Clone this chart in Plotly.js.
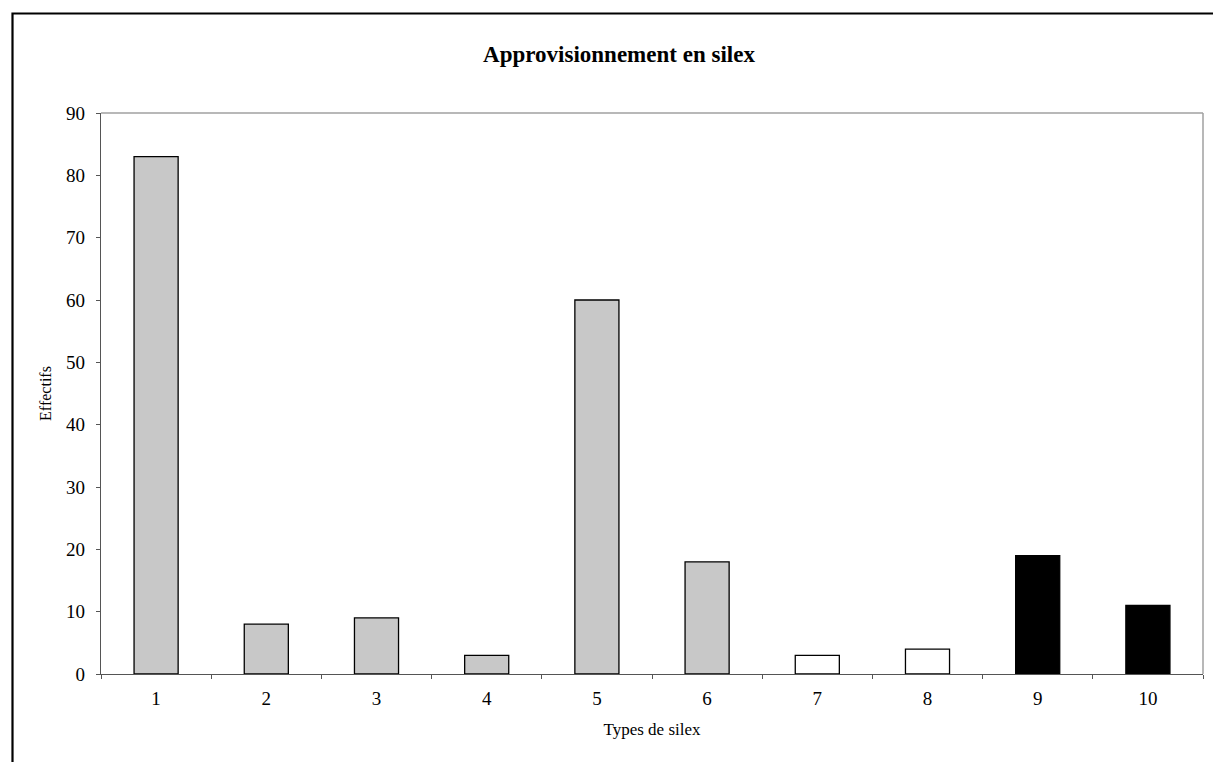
<!DOCTYPE html>
<html><head><meta charset="utf-8">
<script src="https://cdn.plot.ly/plotly-3.0.1.min.js"></script>
<style>html,body{margin:0;padding:0;background:#fff}#chart{width:1213px;height:762px}</style>
</head><body><div id="chart"></div>
<script>
const categories = ["1","2","3","4","5","6","7","8","9","10"];
const values = [83, 8, 9, 3, 60, 18, 3, 4, 19, 11];
const barColors = ["#C8C8C8","#C8C8C8","#C8C8C8","#C8C8C8","#C8C8C8","#C8C8C8","#FFFFFF","#FFFFFF","#000000","#000000"];
const yTicks = [0,10,20,30,40,50,60,70,80,90];

const font = "'Liberation Serif', 'Times New Roman', serif";
const trace = {
  type: "bar", x: categories, y: values,
  marker: {color: barColors, line: {color: "#000", width: 1.3}},
  hoverinfo: "x+y"
};
const layout = {
  width: 1213, height: 762,
  margin: {l: 101, r: 10, t: 113, b: 88},
  paper_bgcolor: "#fff", plot_bgcolor: "#fff",
  showlegend: false,
  bargap: 0.6,
  font: {family: font, color: "#000", size: 19},
  title: {text: "<b>Approvisionnement en silex</b>", font: {family: font, size: 23, color: "#000"},
          xref: "container", x: 619/1213, xanchor: "center", yref: "container", y: 1 - 54/762, yanchor: "middle"},
  xaxis: {type: "category", tickson: "boundaries", ticks: "outside", ticklen: 4, tickcolor: "#555",
          showline: true, linecolor: "#555", linewidth: 1.3, showgrid: false, zeroline: false,
          ticklabelstandoff: 7,
          tickfont: {family: font, size: 19, color: "#000"},
          title: {text: "Types de silex", font: {family: font, size: 17, color: "#000"}, standoff: 15}},
  yaxis: {range: [0, 90], tickvals: yTicks, ticks: "outside", ticklen: 4, tickcolor: "#555",
          showline: true, linecolor: "#555", linewidth: 1.3, showgrid: false, zeroline: false,
          ticklabelstandoff: 7,
          tickfont: {family: font, size: 19, color: "#000"},
          title: {text: "Effectifs", font: {family: font, size: 16, color: "#000"}, standoff: 10}},
  shapes: [
    {type: "line", xref: "paper", yref: "paper", x0: 0, x1: 1, y0: 1, y1: 1, line: {color: "#A0A0A0", width: 1.5}},
    {type: "line", xref: "paper", yref: "paper", x0: 1, x1: 1, y0: 0, y1: 1, line: {color: "#A0A0A0", width: 1.5}},
    {type: "rect", xref: "paper", yref: "paper", x0: (12.5-101)/1102, x1: 1.02, y0: 1 + (113-13.5)/561, y1: -0.2,
     line: {color: "#000", width: 2.2}, fillcolor: "rgba(0,0,0,0)", layer: "above"}
  ]
};
Plotly.newPlot("chart", [trace], layout, {displayModeBar: false, staticPlot: true});
</script></body></html>
